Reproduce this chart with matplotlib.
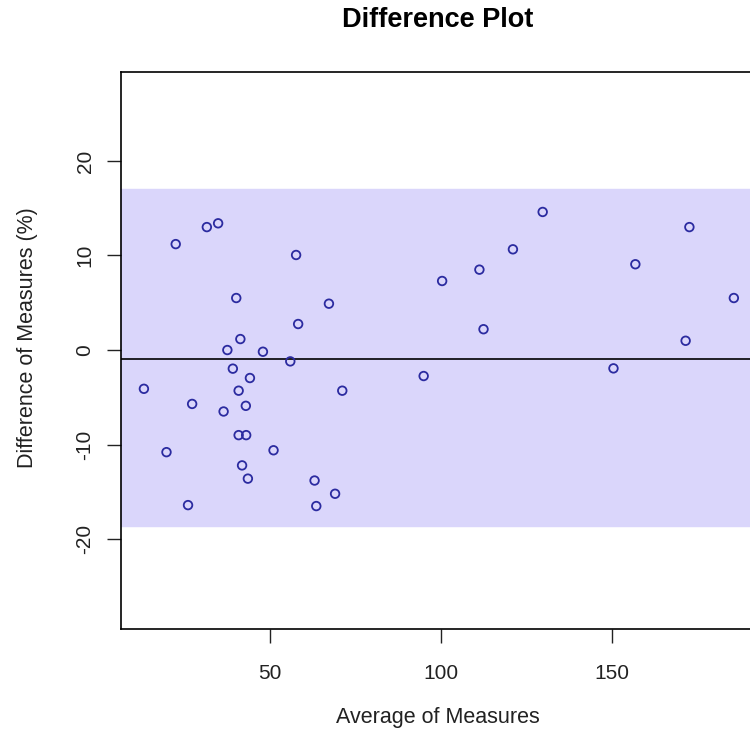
import matplotlib
matplotlib.use('Agg')
from matplotlib import pyplot as plt

plt.rcParams['font.family'] = ['Liberation Sans', 'DejaVu Sans']
plt.rcParams['axes.unicode_minus'] = False

# average and difference of the two measures
avg = [22.4, 31.5, 34.8, 57.6, 40.1, 67.2, 58.2, 41.3, 37.5, 47.9,
       55.9, 39.1, 44.1, 13.1, 40.8, 71.1, 27.2, 42.9, 36.4, 40.8,
       43.0, 19.7, 51.0, 41.8, 43.5, 63.0, 69.0, 26.0, 63.5, 129.7,
       172.6, 121.0, 156.8, 111.2, 100.3, 185.6, 112.4, 171.5, 94.9, 150.4]
diff = [11.2, 13.0, 13.4, 10.05, 5.5, 4.9, 2.75, 1.16, 0.0, -0.18,
        -1.2, -1.97, -2.96, -4.1, -4.3, -4.3, -5.7, -5.9, -6.5, -9.0,
        -9.0, -10.8, -10.6, -12.2, -13.6, -13.8, -15.2, -16.4, -16.5, 14.6,
        13.0, 10.65, 9.07, 8.5, 7.3, 5.5, 2.2, 0.98, -2.75, -1.94]

mean_diff = -0.95
lower_lim = -18.6
upper_lim = 17.0

fig = plt.figure(figsize=(7.5, 7.43), dpi=100)
ax = fig.add_axes([121/750, 1 - 629/743, 632/750, 557/743])

ax.axhspan(lower_lim, upper_lim, color='#dad6fb', zorder=0)
ax.axhline(mean_diff, color='black', lw=1.2, zorder=1)
ax.scatter(avg, diff, s=38, facecolors='none', edgecolors='#2b2ba0', linewidths=1.3, zorder=2)

ax.set_xlim(6.4, 191.2)
ax.set_ylim(-29.5, 29.4)
ax.set_xticks([50, 100, 150])
ax.set_yticks([-20, -10, 0, 10, 20])
ax.tick_params(axis='both', labelsize=15, length=10, width=1, colors='#222222')
ax.tick_params(axis='x', pad=15)
ax.tick_params(axis='y', pad=9)
for lab in ax.get_yticklabels():
    lab.set_rotation(90)
    lab.set_va('center')
for sp in ax.spines.values():
    sp.set_linewidth(1.2)

ax.set_xlabel('Average of Measures', fontsize=15.5, color='#222222', va='center')
ax.xaxis.set_label_coords((438 - 121) / 632, (629 - 717) / 557)
ax.set_ylabel('Difference of Measures (%)', fontsize=15.5, color='#222222', va='center')
ax.yaxis.set_label_coords((27 - 121) / 632, (629 - 338) / 557)
fig.text(438/750, 1 - 20/743, 'Difference Plot', ha='center', va='center',
         fontsize=19.5, fontweight='bold')

fig.savefig('out.png', dpi=100)
